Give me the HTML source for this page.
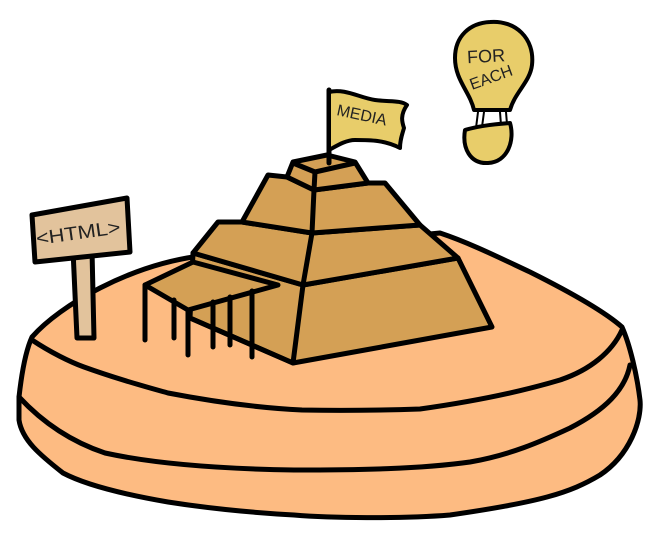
<!DOCTYPE html>
<html><head><meta charset="utf-8"><style>
html,body{margin:0;padding:0;background:#fff;}
svg{display:block;}
text{font-family:"Liberation Sans",sans-serif;}
</style></head><body>
<svg width="655" height="536" viewBox="0 0 655 536" xmlns="http://www.w3.org/2000/svg">
<g stroke="#000" stroke-width="5" stroke-linejoin="round" stroke-linecap="round">
<!-- disk body -->
<path d="M32,337 C60,305 130,265 200,256 L440,233 C470,243 500,258 530,272 C570,292 605,312 622,327 C630,345 637,375 640,400 C642,420 630,455 600,475 C570,493 540,502 450,515 C400,519 330,518 294,515 C240,512 200,507 168,502 C110,492 80,482 63,473 C40,455 22,440 19,420 L19,397 C22,370 26,350 32,337 Z" fill="#fdbb82"/>
<path d="M32,340 C50,352 70,362 84,367 C120,380 150,388 168,393 C220,403 260,408 302,410 C350,411 390,410 420,409 C470,402 520,392 560,380 C590,370 612,352 622,330" fill="none"/>
<path d="M19,397 C45,425 75,443 105,453 C160,465 230,469 294,470 C360,470 420,469 470,462 C510,455 540,442 570,428 C605,410 625,390 630,365" fill="none"/>
<!-- sign -->
<path d="M73,250 L92,250 L94,338 L77,338 Z" fill="#e2c39c"/>
<path d="M32,215 L127,198 L130,252 L35,262 Z" fill="#e2c39c"/>
<!-- pyramid bottom tier -->
<path d="M190,318 L193,253 L303,285 L458,258 L492,327 L293,363 Z" fill="#d4a055"/>
<path d="M303,285 L293,363" fill="none"/>
<path d="M190,318 L293,363" fill="none"/>
<!-- tier 3 -->
<path d="M193,253 L218,222 L242,222 L312,233 L420,225 L458,258 L303,285 Z" fill="#d4a055"/>
<path d="M312,233 L303,285" fill="none"/>
<!-- tier 2 -->
<path d="M242,222 L268,175 L287,177 L314,190 L368,183 L385,183 L420,225 L312,233 Z" fill="#d4a055"/>
<path d="M314,190 L312,233" fill="none"/>
<!-- cap -->
<path d="M287,177 L293,162 L327,155 L355,162 L368,183 L314,190 Z" fill="#d4a055"/>
<path d="M293,163 L315,172 L355,163" fill="none"/>
<path d="M315,172 L314,190" fill="none"/>
<!-- porch -->
<path d="M145,285 L193,262 L278,285 L188,310 Z" fill="#d4a055"/>
<path d="M145,285 L145,340 M174,300 L174,338 M188,310 L188,355 M213,302 L213,347 M230,297 L230,345 M252,291 L252,357" fill="none"/>
<!-- flag -->
<path d="M329,90 L329,163" fill="none"/>
<path d="M329,92 C345,88 360,98 375,100 C390,102 400,100 407,105 C400,115 402,122 404,128 C402,135 400,140 400,148 C385,140 370,140 355,140 C345,140 335,147 329,150 Z" fill="#e8cd6a" stroke-width="4"/>
<!-- bulb -->
<path d="M490,22 C515,20 535,38 532,65 C530,82 515,92 510,110 L474,110 C470,92 455,80 455,58 C455,36 470,23 490,22 Z" fill="#e8cd6a" stroke-width="4"/>
<path d="M478,112 L476,128 M484,112 L482,127 M500,112 L501,125 M506,112 L507,124" fill="none" stroke-width="2"/>
<path d="M465,130 C478,126 495,124 510,123 C515,140 508,162 488,163 C470,164 462,148 465,130 Z" fill="#e8cd6a" stroke-width="4"/>
</g>
<text x="0" y="0" transform="translate(37,245) rotate(-8)" font-size="19" fill="#222" textLength="85" lengthAdjust="spacingAndGlyphs">&lt;HTML&gt;</text>
<text x="0" y="0" transform="translate(336,115) rotate(12)" font-size="16" fill="#222">MEDIA</text>
<text x="467" y="62" font-size="18" fill="#222" transform="rotate(-3 490 55)">FOR</text>
<text x="0" y="0" transform="translate(472,90) rotate(-20)" font-size="16" fill="#222">EACH</text>
</svg>
</body></html>
